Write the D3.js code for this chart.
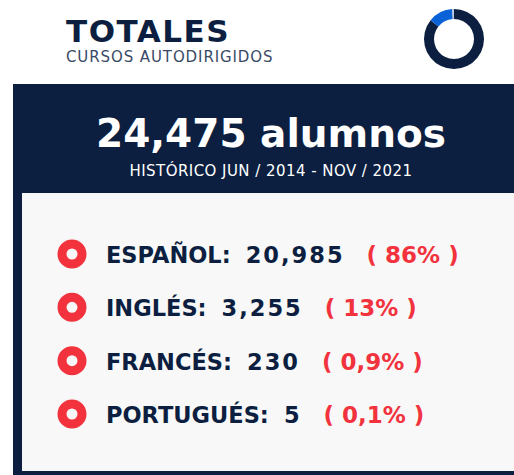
<!DOCTYPE html>
<html>
<head>
<meta charset="utf-8">
<script src="https://cdn.jsdelivr.net/npm/d3@7"></script>
<style>
  body { margin: 0; background: #ffffff; }
  svg { display: block; }
</style>
</head>
<body>
<div id="vis"></div>
<script>
const WIDTH = 514;
const HEIGHT = 475;
const FONT = "'DejaVu Sans', sans-serif";
const NAVY = "#0c1f40";
const RED = "#f2333e";

// data
const languages = ["ESPAÑOL", "INGLÉS", "FRANCÉS", "PORTUGUÉS"];
const students = [20985, 3255, 230, 5];
const shares = ["86%", "13%", "0,9%", "0,1%"];
const period = "HISTÓRICO JUN / 2014 - NOV / 2021";
const sliceColors = [NAVY, "#0a62d6", "#b9c6d8", "#d0d8e4"];

const fmt = d3.format(",");
const total = d3.sum(students);

const svg = d3.select("#vis")
  .append("svg")
    .attr("width", WIDTH)
    .attr("height", HEIGHT);

// header
svg.append("text")
  .attr("x", 66).attr("y", 42)
  .attr("font-family", FONT).attr("font-weight", 800)
  .attr("font-size", 31).attr("letter-spacing", 1.5)
  .attr("fill", NAVY)
  .text("TOTALES");

svg.append("text")
  .attr("x", 66).attr("y", 62)
  .attr("font-family", FONT).attr("font-size", 15)
  .attr("letter-spacing", 0.9)
  .attr("fill", "#3a4a66")
  .text("CURSOS AUTODIRIGIDOS");

// donut
const pie = d3.pie().sort(null);
const arc = d3.arc().innerRadius(20).outerRadius(30);
svg.append("g")
  .attr("transform", "translate(454,39)")
  .selectAll("path")
  .data(pie(students))
  .enter()
  .append("path")
    .attr("d", arc)
    .attr("fill", (d, i) => sliceColors[i]);

// panel
svg.append("rect")
  .attr("x", 13).attr("y", 84)
  .attr("width", WIDTH - 13).attr("height", HEIGHT - 84)
  .attr("fill", NAVY);

svg.append("rect")
  .attr("x", 22).attr("y", 193)
  .attr("width", WIDTH - 22).attr("height", 278)
  .attr("fill", "#f8f8f8");

svg.append("text")
  .attr("x", 271).attr("y", 147)
  .attr("text-anchor", "middle")
  .attr("font-family", FONT).attr("font-weight", 700)
  .attr("font-size", 39).attr("fill", "#ffffff")
  .text(fmt(total) + " alumnos");

svg.append("text")
  .attr("x", 271).attr("y", 176)
  .attr("text-anchor", "middle")
  .attr("font-family", FONT).attr("font-size", 15)
  .attr("letter-spacing", 0.45)
  .attr("fill", "#ffffff")
  .text(period);

// rows
const Y_SCALE = d3.scalePoint()
  .domain(languages)
  .range([254, 414]);

const rows = svg.selectAll(".row")
  .data(languages)
  .enter()
  .append("g")
    .attr("class", "row")
    .attr("transform", (d) => "translate(0," + Y_SCALE(d) + ")");

rows.append("circle")
  .attr("cx", 72).attr("cy", 0).attr("r", 10)
  .attr("fill", "none")
  .attr("stroke", RED).attr("stroke-width", 9);

rows.each(function(d, i) {
  const g = d3.select(this);
  const lab = g.append("text")
    .attr("x", 106).attr("y", 9)
    .attr("font-family", FONT).attr("font-weight", 700)
    .attr("font-size", 22.5).attr("fill", NAVY)
    .text(d + ":");
  let x = 106 + lab.node().getComputedTextLength() + 15;
  const num = g.append("text")
    .attr("x", x).attr("y", 9)
    .attr("font-family", FONT).attr("font-weight", 700)
    .attr("font-size", 22.5).attr("letter-spacing", 2)
    .attr("fill", NAVY)
    .text(fmt(students[i]));
  x += num.node().getComputedTextLength() + 22;
  g.append("text")
    .attr("x", x).attr("y", 9)
    .attr("font-family", FONT).attr("font-weight", 600)
    .attr("font-size", 23).attr("fill", RED)
    .text("( " + shares[i] + " )");
});
</script>
</body>
</html>
